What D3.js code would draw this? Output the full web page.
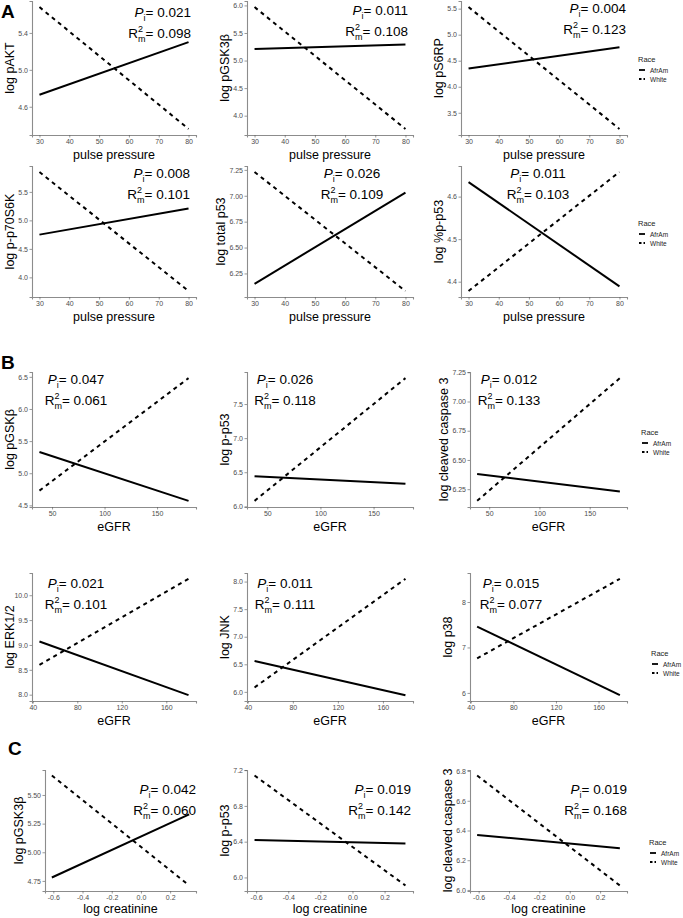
<!DOCTYPE html>
<html>
<head>
<meta charset="utf-8">
<script src="https://cdn.jsdelivr.net/npm/d3@7"></script>
<style>
  body { margin: 0; background: #fff; }
  text { font-family: "Liberation Sans", Arial, sans-serif; }
</style>
</head>
<body>
<svg id="chart" width="683" height="918"></svg>
<script>
// ---- data ----
var yTitles = ["log pAKT", "log pGSK3\u03b2", "log pS6RP", "log p-p70S6K", "log total p53", "log %p-p53",
               "log pGSK\u03b2", "log p-p53", "log cleaved caspase 3", "log ERK1/2", "log JNK", "log p38",
               "log pGSK3\u03b2", "log p-p53", "log cleaved caspase 3"];
var xTitles = ["pulse pressure", "pulse pressure", "pulse pressure", "pulse pressure", "pulse pressure", "pulse pressure",
               "eGFR", "eGFR", "eGFR", "eGFR", "eGFR", "eGFR",
               "log creatinine", "log creatinine", "log creatinine"];
var xFrom = [30, 30, 30, 30, 30, 30, 38, 38, 38, 46, 46, 46, -0.61, -0.61, -0.61];
var xTo   = [80, 80, 80, 80, 80, 80, 180, 180, 180, 180, 180, 180, 0.33, 0.33, 0.33];
var afrAmFrom = [4.73, 5.21, 4.35, 4.75, 6.15, 4.634, 5.33, 6.44, 6.38, 9.07, 6.56, 7.46, 4.78, 6.42, 6.37];
var afrAmTo   = [5.30, 5.29, 4.76, 5.21, 7.03, 4.389, 4.57, 6.33, 6.23, 7.99, 5.94, 5.95, 5.33, 6.38, 6.28];
var whiteFrom = [5.68, 5.97, 5.53, 5.85, 7.23, 4.378, 4.73, 6.08, 6.15, 8.60, 6.08, 6.76, 5.67, 7.14, 6.77];
var whiteTo   = [4.36, 3.76, 3.19, 3.76, 6.08, 4.658, 6.48, 7.88, 7.20, 10.33, 8.05, 8.51, 4.71, 5.91, 6.03];
var pValues  = ["0.021", "0.011", "0.004", "0.008", "0.026", "0.011", "0.047", "0.026", "0.012",
                "0.021", "0.011", "0.015", "0.042", "0.019", "0.019"];
var r2Values = ["0.098", "0.108", "0.123", "0.101", "0.109", "0.103", "0.061", "0.118", "0.133",
                "0.101", "0.111", "0.077", "0.060", "0.142", "0.168"];
var yTicks = [[4.6, 5.0, 5.4], [4.0, 4.5, 5.0, 5.5, 6.0], [3.5, 4.0, 4.5, 5.0, 5.5], [4.0, 4.5, 5.0, 5.5],
              [6.25, 6.50, 6.75, 7.00, 7.25], [4.4, 4.5, 4.6],
              [4.5, 5.0, 5.5, 6.0, 6.5], [6.0, 6.5, 7.0, 7.5], [6.25, 6.50, 6.75, 7.00, 7.25],
              [8.0, 8.5, 9.0, 9.5, 10.0], [6.0, 6.5, 7.0, 7.5, 8.0], [6, 7, 8],
              [4.75, 5.00, 5.25, 5.50], [6.0, 6.4, 6.8, 7.2], [6.0, 6.2, 6.4, 6.6, 6.8]];
var xTicks = [[30, 40, 50, 60, 70, 80], [30, 40, 50, 60, 70, 80], [30, 40, 50, 60, 70, 80],
              [30, 40, 50, 60, 70, 80], [30, 40, 50, 60, 70, 80], [30, 40, 50, 60, 70, 80],
              [50, 100, 150], [50, 100, 150], [50, 100, 150],
              [40, 80, 120, 160], [40, 80, 120, 160], [40, 80, 120, 160],
              [-0.6, -0.4, -0.2, 0.0, 0.2], [-0.6, -0.4, -0.2, 0.0, 0.2], [-0.6, -0.4, -0.2, 0.0, 0.2]];
var yFormats = [".1f", ".1f", ".1f", ".1f", ".2f", ".1f", ".1f", ".1f", ".2f", ".1f", ".1f", "d", ".2f", ".1f", ".1f"];
var xFormats = ["d", "d", "d", "d", "d", "d", "d", "d", "d", "d", "d", "d", ".1f", ".1f", ".1f"];
var raceLevels = ["AfrAm", "White"];

// ---- layout: panel box [left, top, right, bottom], annotation [x, y, anchor] ----
var boxes = [[32, 1, 196, 135], [247, 1, 413, 135], [461, 1, 627, 135],
             [32, 166, 196, 297], [247, 166, 413, 297], [461, 166, 627, 297],
             [32, 372, 196, 507], [247, 372, 413, 507], [470, 372, 627, 507],
             [32, 573, 196, 701], [247, 573, 413, 701], [470, 573, 627, 701],
             [45, 770, 196, 891], [247, 770, 413, 891], [470, 770, 627, 891]];
var notes = [[191, 17, "end"], [408, 15, "end"], [626, 13, "end"],
             [190, 178, "end"], [352, 178, "middle"], [538, 178, "middle"],
             [76, 384, "middle"], [285, 384, "middle"], [509, 384, "middle"],
             [76, 588, "middle"], [285, 588, "middle"], [511, 588, "middle"],
             [196, 794, "end"], [411, 794, "end"], [627, 794, "end"]];
var legends = [[638, 59], [638, 223], [641, 432], [651, 653], [649, 842]];
var letters = [["A", 1, 18], ["B", 1, 369], ["C", 8, 755]];

var svg = d3.select("#chart");
var minusFix = d3.formatLocale({ decimal: ".", thousands: ",", grouping: [3], currency: ["", ""], minus: "-" });

function expand(a, b) {
    var lo = Math.min(a, b), hi = Math.max(a, b), pad = (hi - lo) * 0.05;
    return [lo - pad, hi + pad];
}

for (var i = 0; i < boxes.length; i++) {
    var b = boxes[i];
    var xExt = expand(xFrom[i], xTo[i]);
    var yExt = expand(Math.min(afrAmFrom[i], afrAmTo[i], whiteFrom[i], whiteTo[i]),
                      Math.max(afrAmFrom[i], afrAmTo[i], whiteFrom[i], whiteTo[i]));
    var x = d3.scaleLinear().domain(xExt).range([b[0], b[2]]);
    var y = d3.scaleLinear().domain(yExt).range([b[3], b[1]]);
    var g = svg.append("g");

    var xa = g.append("g").attr("transform", "translate(0," + b[3] + ")")
        .call(d3.axisBottom(x).tickValues(xTicks[i]).tickSize(2.5).tickPadding(1.5)
            .tickFormat(minusFix.format(xFormats[i])));
    var ya = g.append("g").attr("transform", "translate(" + b[0] + ",0)")
        .call(d3.axisLeft(y).tickValues(yTicks[i]).tickSize(2.5).tickPadding(1.5)
            .tickFormat(minusFix.format(yFormats[i])));
    [xa, ya].forEach(function (ax) {
        ax.select(".domain").attr("stroke", "#8c8c8c").attr("stroke-width", 1.1);
        ax.selectAll(".tick line").attr("stroke", "#555").attr("stroke-width", 0.6);
        ax.selectAll(".tick text").attr("fill", "#4d4d4d").style("font-size", "7px");
    });

    var titleGap = i >= 12 ? 22 : 24;
    g.append("text").attr("x", (b[0] + b[2]) / 2).attr("y", b[3] + titleGap)
        .attr("text-anchor", "middle").style("font-size", "12.5px").text(xTitles[i]);
    var yl = b[0] - (yFormats[i] === ".2f" ? 22 : 18);
    g.append("text").attr("transform", "translate(" + yl + "," + ((b[1] + b[3]) / 2) + ") rotate(-90)")
        .attr("text-anchor", "middle").style("font-size", "12.5px").text(yTitles[i]);

    var lines = [
        { race: raceLevels[0], p: [[xFrom[i], afrAmFrom[i]], [xTo[i], afrAmTo[i]]] },
        { race: raceLevels[1], p: [[xFrom[i], whiteFrom[i]], [xTo[i], whiteTo[i]]] }
    ];
    g.selectAll("path.fit").data(lines).enter().append("path")
        .attr("class", "fit")
        .attr("d", function (d) { return d3.line().x(function (p) { return x(p[0]); }).y(function (p) { return y(p[1]); })(d.p); })
        .attr("fill", "none").attr("stroke", "#000").attr("stroke-width", 2)
        .attr("stroke-dasharray", function (d) { return d.race === "White" ? "4,4" : null; });

    var n = notes[i];
    var t1 = g.append("text").attr("x", n[0]).attr("y", n[1]).attr("text-anchor", n[2]).style("font-size", "13.5px");
    t1.append("tspan").style("font-style", "italic").text("P");
    t1.append("tspan").attr("dy", 4).style("font-size", "9px").text("i");
    t1.append("tspan").attr("dy", -4).text("= " + pValues[i]);
    var t2 = g.append("text").attr("x", n[0]).attr("y", n[1] + 21).attr("text-anchor", n[2]).style("font-size", "13.5px");
    t2.append("tspan").text("R");
    t2.append("tspan").attr("dy", -6).style("font-size", "9px").text("2");
    t2.append("tspan").attr("dx", -5).attr("dy", 10).style("font-size", "9px").text("m");
    t2.append("tspan").attr("dy", -4).text("= " + r2Values[i]);
}

// legends
legends.forEach(function (l) {
    var lg = svg.append("g").attr("transform", "translate(" + l[0] + "," + l[1] + ")");
    lg.append("text").attr("x", 0).attr("y", 3).style("font-size", "7.5px").attr("fill", "#222").text("Race");
    raceLevels.forEach(function (r, k) {
        lg.append("line").attr("x1", 1).attr("x2", 7).attr("y1", 11 + k * 9).attr("y2", 11 + k * 9)
            .attr("stroke", "#000").attr("stroke-width", 1.8)
            .attr("stroke-dasharray", r === "White" ? "2.5,2" : null);
        lg.append("text").attr("x", 12).attr("y", 13.5 + k * 9).style("font-size", "6.5px").attr("fill", "#222").text(r);
    });
});

letters.forEach(function (l) {
    svg.append("text").attr("x", l[1]).attr("y", l[2]).style("font-size", "19px").style("font-weight", "bold").text(l[0]);
});
</script>
</body>
</html>
